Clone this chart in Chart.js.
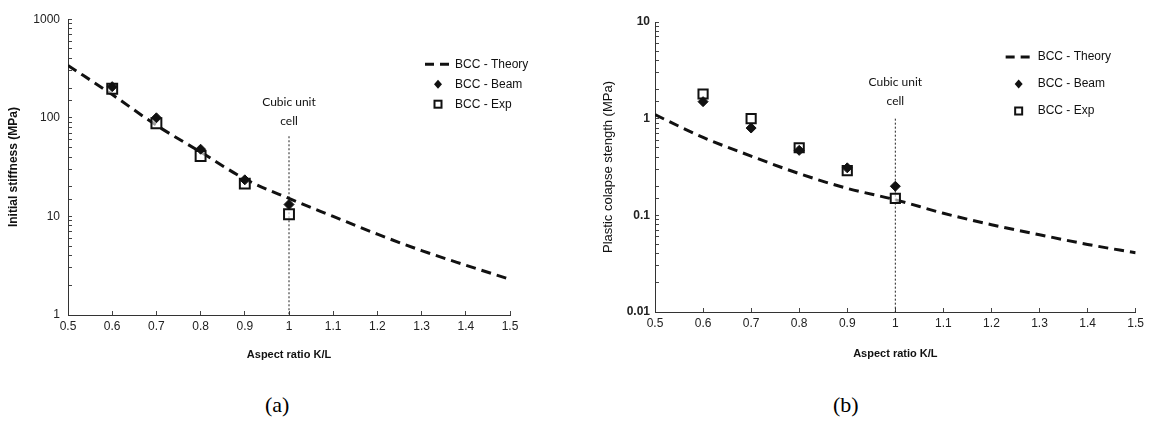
<!DOCTYPE html>
<html>
<head>
<meta charset="utf-8">
<script src="https://cdn.jsdelivr.net/npm/chart.js@4.4.1/dist/chart.umd.min.js"></script>
<style>
   body { margin: 0; background: #fff; }
   #wrap { position: relative; width: 1152px; height: 437px; }
   canvas { position: absolute; top: 0; }
   #chartA { left: 0; }
   #chartB { left: 560px; }
   .caption { position: absolute; top: 392px; font-family: "Liberation Serif", serif; font-size: 22px; color: #000; }
</style>
</head>
<body>
<div id="wrap">
   <canvas id="chartA" width="580" height="380"></canvas>
   <canvas id="chartB" width="592" height="380"></canvas>
   <div class="caption" style="left:265px">(a)</div>
   <div class="caption" style="left:833px">(b)</div>
</div>
<script>
// DATA
const aspectRatio = [0.5, 0.6, 0.7, 0.8, 0.9, 1.0, 1.1, 1.2, 1.3, 1.4, 1.5];
const xTickLabels = ["0.5", "0.6", "0.7", "0.8", "0.9", "1", "1.1", "1.2", "1.3", "1.4", "1.5"];
const sampleRatio = [0.6, 0.7, 0.8, 0.9, 1.0];

// (a) initial stiffness, MPa
const stiffnessTheory = [340, 172, 84, 45, 24, 15.2, 10, 6.6, 4.5, 3.2, 2.3];
const stiffnessBeam = [207, 100, 48, 23.5, 13.2];
const stiffnessExp = [197, 88, 41, 21.5, 10.5];
const yTicksA = [1, 10, 100, 1000];
const yTickLabelsA = ["1", "10", "100", "1000"];

// (b) plastic collapse strength, MPa
const strengthTheory = [1.1, 0.64, 0.41, 0.27, 0.19, 0.145, 0.105, 0.08, 0.063, 0.05, 0.041];
const strengthBeam = [1.5, 0.8, 0.47, 0.31, 0.2];
const strengthExp = [1.8, 1.0, 0.5, 0.29, 0.15];
const yTicksB = [0.01, 0.1, 1, 10];
const yTickLabelsB = ["0.01", "0.1", "1", "10"];

// cubic unit cell marker line (K/L = 1)
const cellLineX = [1, 1];
const cellLineA = [65, 1];
const cellLineB = [1.0, 0.01];

const legendLabels = ["BCC - Theory", "BCC - Beam", "BCC - Exp"];

function toPoints(xs, ys) {
   return xs.map((x, i) => ({ x: x, y: ys[i] }));
}

// draws legend + "Cubic unit cell" note
const extrasPlugin = {
   id: "extras",
   afterDraw(chart) {
      const o = chart.options.plugins.extras;
      const ctx = chart.ctx;
      const area = chart.chartArea;
      ctx.save();
      ctx.fillStyle = "#111";
      ctx.strokeStyle = "#111";

      // legend
      const lx = area.right - o.legendRight;
      const ly = area.top + o.legendTop;
      ctx.font = "12px 'Liberation Sans', Arial, sans-serif";
      ctx.textBaseline = "middle";
      ctx.textAlign = "left";
      ctx.lineWidth = 3;
      ctx.setLineDash([9, 6]);
      ctx.beginPath();
      ctx.moveTo(lx, ly);
      ctx.lineTo(lx + 24, ly);
      ctx.stroke();
      ctx.setLineDash([]);
      ctx.fillText(legendLabels[0], lx + o.textGap, ly);

      const y2 = ly + o.legendStep;
      ctx.beginPath();
      ctx.moveTo(lx + 13, y2 - 4.5);
      ctx.lineTo(lx + 17, y2);
      ctx.lineTo(lx + 13, y2 + 4.5);
      ctx.lineTo(lx + 9, y2);
      ctx.closePath();
      ctx.fill();
      ctx.fillText(legendLabels[1], lx + o.textGap, y2);

      const y3 = ly + o.legendStep * 2;
      ctx.lineWidth = 2;
      ctx.strokeRect(lx + 9.5, y3 - 3.5, 7, 7);
      ctx.fillText(legendLabels[2], lx + o.textGap, y3);

      // note above the K/L = 1 line
      const xs = chart.scales.x;
      const ys = chart.scales.y;
      const nx = xs.getPixelForValue(cellLineX[0]);
      const ny = ys.getPixelForValue(o.cellTop);
      ctx.font = "12px Lato, 'Open Sans', sans-serif";
      ctx.textAlign = "center";
      ctx.fillText("Cubic unit", nx, ny - o.noteGap - 19);
      ctx.fillText("cell", nx, ny - o.noteGap);
      ctx.restore();
   },
};

function createChart(canvasId, cfg) {
   const ctx = document.getElementById(canvasId).getContext("2d");
   return new Chart(ctx, {
      type: "scatter",
      data: {
         datasets: [
            {
               label: legendLabels[1],
               data: toPoints(sampleRatio, cfg.beam),
               pointStyle: "rectRot",
               pointRadius: 5,
               backgroundColor: "#111",
               borderColor: "#111",
               borderWidth: 1,
               order: 0,
            },
            {
               label: legendLabels[2],
               data: toPoints(sampleRatio, cfg.exp),
               pointStyle: "rect",
               pointRadius: cfg.squareRadius,
               backgroundColor: "rgba(255,255,255,0.6)",
               borderColor: "#111",
               borderWidth: 2,
               order: 1,
            },
            {
               label: legendLabels[0],
               data: toPoints(aspectRatio, cfg.theory),
               showLine: true,
               cubicInterpolationMode: "monotone",
               borderColor: "#111",
               borderWidth: 3,
               borderDash: [10, 6],
               pointRadius: 0,
               order: 2,
            },
            {
               label: "cell",
               data: toPoints(cellLineX, cfg.cellLine),
               showLine: true,
               borderColor: "#222",
               borderWidth: 1,
               borderDash: [2, 2],
               pointRadius: 0,
               order: 3,
            },
         ],
      },
      options: {
         responsive: false,
         animation: false,
         layout: { padding: cfg.padding },
         plugins: {
            legend: { display: false },
            tooltip: { enabled: false },
            extras: cfg.extras,
         },
         scales: {
            x: {
               type: "linear",
               min: 0.5,
               max: 1.5,
               afterFit: (s) => { s.height = cfg.xHeight; },
               grid: { drawOnChartArea: false, tickLength: -4, color: "#444" },
               border: { color: "#333", width: 1 },
               ticks: {
                  stepSize: 0.1,
                  padding: cfg.xPad,
                  color: "#222",
                  font: { size: 12 },
                  callback: (v, i) => xTickLabels[i],
               },
               title: {
                  display: true,
                  text: "Aspect ratio K/L",
                  color: "#111",
                  font: { size: 11, weight: "bold" },
                  padding: { top: 0, bottom: cfg.xTitlePad },
               },
            },
            y: {
               type: "logarithmic",
               min: cfg.yTicks[0],
               max: cfg.yTicks[cfg.yTicks.length - 1],
               afterFit: (s) => { s.width = cfg.yWidth; },
               grid: { drawOnChartArea: false, tickLength: -4, color: "#444" },
               border: { color: "#333", width: 1 },
               ticks: {
                  autoSkip: false,
                  padding: cfg.yPad,
                  color: "#222",
                  font: { size: 12, weight: cfg.yTickWeight },
                  callback: function (v) {
                     const k = cfg.yTicks.findIndex((t) => Math.abs(Math.log10(v) - Math.log10(t)) < 1e-6);
                     return k >= 0 ? cfg.yTickLabels[k] : "";
                  },
               },
               title: {
                  display: true,
                  text: cfg.yTitle,
                  color: "#111",
                  font: cfg.yTitleFont,
                  padding: { top: cfg.yTitlePad, bottom: 0 },
               },
            },
         },
      },
      plugins: [extrasPlugin],
   });
}

Chart.defaults.font.family = "'Liberation Sans', Arial, sans-serif";

window.chartA = createChart("chartA", {
   theory: stiffnessTheory,
   beam: stiffnessBeam,
   exp: stiffnessExp,
   cellLine: cellLineA,
   yTicks: yTicksA,
   yTickLabels: yTickLabelsA,
   yTitle: "Initial stiffness (MPa)",
   yTitleFont: { size: 12, weight: "bold" },
   yTitlePad: 6,
   yTickWeight: "normal",
   squareRadius: 7,
   padding: { left: 0, top: 17, right: 70, bottom: 0 },
   xHeight: 65,
   yWidth: 68,
   xPad: 8,
   yPad: 12,
   xTitlePad: 18,
   extras: { legendRight: 85, legendTop: 45, legendStep: 20, textGap: 30, cellTop: cellLineA[0], noteGap: 15 },
});

window.chartB = createChart("chartB", {
   theory: strengthTheory,
   beam: strengthBeam,
   exp: strengthExp,
   cellLine: cellLineB,
   yTicks: yTicksB,
   yTickLabels: yTickLabelsB,
   yTitle: "Plastic colapse stength (MPa)",
   yTitleFont: { size: 13, weight: "normal" },
   yTitlePad: 3,
   yTickWeight: "bold",
   squareRadius: 6.5,
   padding: { left: 38, top: 22, right: 12, bottom: 0 },
   xHeight: 68,
   yWidth: 57,
   xPad: 8,
   yPad: 9,
   xTitlePad: 19,
   extras: { legendRight: 130, legendTop: 35, legendStep: 27, textGap: 32, cellTop: cellLineB[0], noteGap: 18 },
});
</script>
</body>
</html>
